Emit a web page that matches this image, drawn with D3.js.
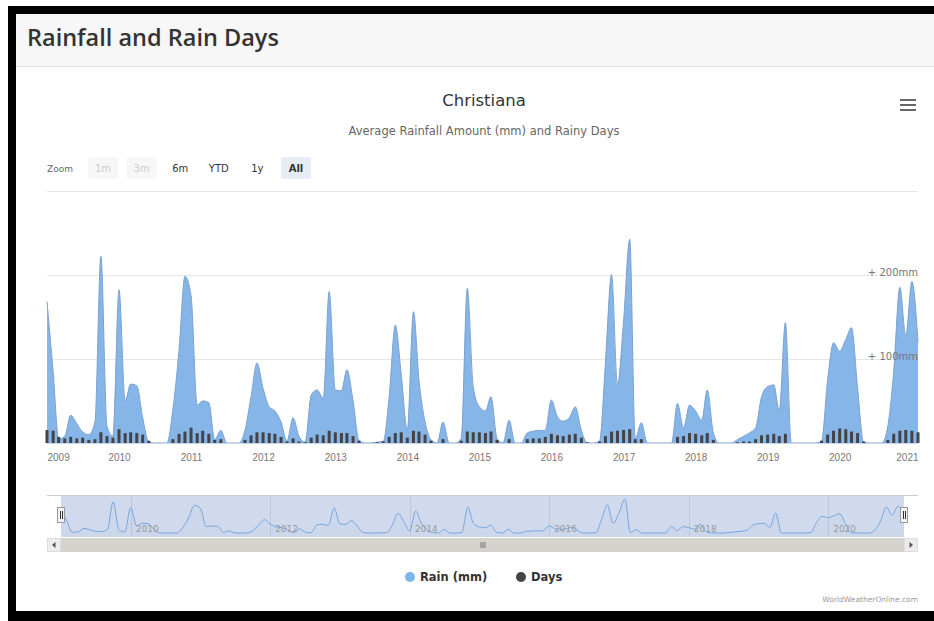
<!DOCTYPE html>
<html>
<head>
<meta charset="utf-8">
<script src="https://cdn.jsdelivr.net/npm/d3@7"></script>
<style>
  html, body { margin: 0; padding: 0; background: #ffffff; }
  svg { display: block; }
  .hc { font-family: "DejaVu Sans", "Liberation Sans", sans-serif; }
</style>
</head>
<body>
<svg id="chart" width="934" height="621"></svg>
<script>
// ---------------- DATA ----------------
const pageTitle = "Rainfall and Rain Days";
const chartTitle = "Christiana";
const chartSubtitle = "Average Rainfall Amount (mm) and Rainy Days";
const firstMonth = "2009-01";
const lastMonth = "2021-02";

// monthly rain (mm), Jan 2009 .. Feb 2021
const rainMm = [
  168, 85, 5, 8, 33, 23, 13, 10, 25, 222, 20, 8,        // 2009
  182, 50, 70, 68, 30, 1, 0, 0, 0, 40, 110, 198,        // 2010
  175, 45, 50, 48, 4, 15, 0, 0, 0, 15, 55, 95,          // 2011
  65, 43, 38, 25, 2, 30, 8, 1, 57, 63, 53, 180,         // 2012
  63, 62, 87, 50, 3, 0, 0, 1, 2, 55, 140, 82,           // 2013
  15, 156, 75, 25, 4, 0, 25, 0, 0, 5, 184, 67,          // 2014
  43, 38, 55, 5, 0, 27, 0, 0, 12, 14, 15, 15,           // 2015
  51, 31, 26, 30, 43, 15, 0, 0, 2, 95, 200, 69,         // 2016
  145, 242, 5, 24, 0, 0, 0, 0, 0, 47, 18, 45,           // 2017
  38, 27, 63, 12, 0, 0, 0, 4, 8, 12, 18, 55,            // 2018
  67, 69, 38, 143, 0, 0, 0, 0, 0, 2, 75, 119,           // 2019
  109, 123, 137, 65, 1, 0, 0, 0, 20, 85, 185, 127,      // 2020
  192, 120                                              // 2021
];

// monthly rainy days, Jan 2009 .. Feb 2021
const rainDays = [
  17, 16, 8, 6, 8, 6, 7, 4, 5, 14, 9, 7,
  18, 13, 14, 13, 11, 3, 0, 0, 0, 5, 12, 15,
  20, 13, 16, 12, 4, 5, 0, 0, 0, 4, 10, 14,
  14, 13, 12, 8, 2, 6, 2, 1, 7, 11, 10, 16,
  14, 13, 13, 9, 3, 0, 0, 1, 2, 8, 13, 14,
  7, 16, 15, 11, 3, 0, 5, 0, 0, 3, 15, 14,
  14, 13, 15, 4, 0, 5, 0, 0, 5, 6, 6, 8,
  12, 10, 9, 11, 12, 7, 1, 0, 2, 9, 15, 16,
  17, 18, 5, 5, 0, 0, 0, 0, 0, 8, 9, 13,
  12, 10, 13, 4, 0, 0, 0, 1, 2, 2, 5, 10,
  11, 12, 9, 12, 0, 0, 0, 0, 0, 3, 11, 16,
  19, 18, 15, 13, 2, 0, 0, 0, 4, 12, 16, 17,
  16, 14
];

const xTickYears = [2009, 2010, 2011, 2012, 2013, 2014, 2015, 2016, 2017, 2018, 2019, 2020, 2021];
const navTickYears = [2010, 2012, 2014, 2016, 2018, 2020];
const yTicks = [100, 200, 300];
const yTickLabels = ["+ 100mm", "+ 200mm", ""];
const rangeButtons = ["1m", "3m", "6m", "YTD", "1y", "All"];
const disabledButtons = ["1m", "3m"];
const selectedButton = "All";
const legendItems = ["Rain (mm)", "Days"];
const creditText = "WorldWeatherOnline.com";

// ---------------- BUILD ----------------
const parseM = d3.timeParse("%Y-%m");
const months = d3.timeMonth.range(parseM(firstMonth), d3.timeMonth.offset(parseM(lastMonth), 1));
const data = months.map((d, i) => ({ date: d, rain: rainMm[i], days: rainDays[i] }));

const svg = d3.select("#chart");
const W = 934, H = 621;

const rainColor = "#7cb5ec";
const daysColor = "#434348";

// page frame
svg.append("rect").attr("x", 0).attr("y", 0).attr("width", W).attr("height", H).attr("fill", "#fff");
// header
svg.append("rect").attr("x", 16).attr("y", 14).attr("width", W - 16).attr("height", 52).attr("fill", "#f7f7f7");
svg.append("line").attr("x1", 16).attr("x2", W).attr("y1", 66.5).attr("y2", 66.5).attr("stroke", "#e2e2e2");
svg.append("text").attr("x", 27).attr("y", 46)
  .attr("font-family", "'Open Sans', sans-serif").attr("font-weight", 600)
  .attr("font-size", 23.5).attr("fill", "#333").text(pageTitle);
// black frame
svg.append("rect").attr("x", 8).attr("y", 6).attr("width", W - 8).attr("height", 8).attr("fill", "#000");
svg.append("rect").attr("x", 8).attr("y", 6).attr("width", 8).attr("height", H - 6).attr("fill", "#000");
svg.append("rect").attr("x", 8).attr("y", 611).attr("width", W - 8).attr("height", 10).attr("fill", "#000");

const g = svg.append("g").attr("class", "hc");

// titles
g.append("text").attr("x", 484).attr("y", 106).attr("text-anchor", "middle")
  .attr("font-size", 16.5).attr("fill", "#333").text(chartTitle);
g.append("text").attr("x", 484).attr("y", 135).attr("text-anchor", "middle")
  .attr("font-size", 11.5).attr("fill", "#666").text(chartSubtitle);

// hamburger
[100, 105, 110].forEach(y => {
  g.append("line").attr("x1", 900).attr("x2", 916).attr("y1", y).attr("y2", y)
    .attr("stroke", "#666").attr("stroke-width", 2);
});

// range selector
g.append("text").attr("x", 47).attr("y", 172).attr("font-size", 9).attr("fill", "#666").text("Zoom");
const btnCenters = d3.scalePoint().domain(rangeButtons).range([103, 296]);
rangeButtons.forEach(b => {
  const cx = btnCenters(b);
  const sel = b === selectedButton;
  const dis = disabledButtons.includes(b);
  g.append("rect").attr("x", cx - 15).attr("y", 157).attr("width", 30).attr("height", 22)
    .attr("rx", 2).attr("fill", sel ? "#e6ebf5" : (dis ? "#f7f7f7" : "#ffffff"));
  g.append("text").attr("x", cx).attr("y", 172).attr("text-anchor", "middle")
    .attr("font-size", 10).attr("font-weight", sel ? "bold" : "normal")
    .attr("fill", dis ? "#cccccc" : "#333").text(b);
});

// main plot
const plotL = 47, plotR = 918, plotB = 443, plotT = 190.5;
const x = d3.scaleTime().domain([months[0], months[months.length - 1]]).range([plotL, plotR]);
const y = d3.scaleLinear().domain([0, 300]).range([plotB, plotT]);
const yDays = d3.scaleLinear().domain([0, 330]).range([plotB, plotT]);

// gridlines
g.append("g").selectAll("line").data(yTicks).join("line")
  .attr("x1", plotL).attr("x2", plotR)
  .attr("y1", d => Math.round(y(d)) + 0.5).attr("y2", d => Math.round(y(d)) + 0.5)
  .attr("stroke", "#e6e6e6");

// area (spline)
const area = d3.area().curve(d3.curveMonotoneX).x(d => x(d.date)).y0(plotB).y1(d => y(d.rain));
const line = d3.line().curve(d3.curveMonotoneX).x(d => x(d.date)).y(d => y(d.rain));
g.append("path").datum(data).attr("d", area).attr("fill", "#86b5e8");
g.append("path").datum(data).attr("d", line).attr("fill", "none")
  .attr("stroke", "#7aa2d2").attr("stroke-width", 1);

// days columns
g.append("g").selectAll("rect").data(data.filter(d => d.days > 0)).join("rect")
  .attr("x", d => x(d.date) - 1.5).attr("width", 3)
  .attr("y", d => yDays(d.days)).attr("height", d => plotB - yDays(d.days))
  .attr("fill", daysColor);

// x axis line
g.append("line").attr("x1", plotL).attr("x2", plotR).attr("y1", plotB + 0.5).attr("y2", plotB + 0.5)
  .attr("stroke", "#ccd6eb");

// x axis labels
const xAxis = d3.axisBottom(x)
  .tickValues(xTickYears.map(yr => new Date(yr, 0, 1)))
  .tickFormat(d3.timeFormat("%Y")).tickSize(0).tickPadding(0);
const xg = g.append("g").attr("transform", `translate(0,${plotB + 11})`).call(xAxis);
xg.select(".domain").remove();
xg.selectAll("text").attr("font-size", 10).attr("fill", "#777").attr("font-family", null)
  .attr("dy", "0.71em");
xg.selectAll(".tick").each(function(d) {
  const t = d3.select(this).select("text");
  const w = t.node().getComputedTextLength();
  const px = x(d);
  if (px - w / 2 < plotL) t.attr("x", plotL - px + w / 2);
  if (px + w / 2 > plotR) t.attr("x", plotR - px - w / 2);
});

// y labels
yTicks.forEach((v, i) => {
  if (!yTickLabels[i]) return;
  g.append("text").attr("x", plotR).attr("y", y(v) + 1).attr("text-anchor", "end")
    .attr("font-size", 10).attr("fill", "#777").text(yTickLabels[i]);
});

// navigator
const navT = 495, navB = 537, navL = 61, navR = 904;
const nx = d3.scaleTime().domain(x.domain()).range([navL, navR]);
const ny = d3.scaleLinear().domain([0, 242]).range([navB - 4, navT + 4]);
g.append("g").selectAll("line").data(navTickYears).join("line")
  .attr("x1", d => Math.round(nx(new Date(d, 0, 1))) + 0.5)
  .attr("x2", d => Math.round(nx(new Date(d, 0, 1))) + 0.5)
  .attr("y1", navT).attr("y2", navB).attr("stroke", "#e6e6e6");
const narea = d3.area().curve(d3.curveMonotoneX).x(d => nx(d.date)).y0(navB).y1(d => ny(d.rain));
const nline = d3.line().curve(d3.curveMonotoneX).x(d => nx(d.date)).y(d => ny(d.rain));
g.append("path").datum(data).attr("d", narea).attr("fill", rainColor).attr("fill-opacity", 0.05);
g.append("path").datum(data).attr("d", nline).attr("fill", "none").attr("stroke", rainColor).attr("stroke-width", 1);
g.append("rect").attr("x", navL).attr("y", navT).attr("width", navR - navL).attr("height", navB - navT)
  .attr("fill", "rgba(102,133,194,0.3)");
g.append("line").attr("x1", plotL).attr("x2", plotR).attr("y1", navT + 0.5).attr("y2", navT + 0.5)
  .attr("stroke", "#cccccc");
g.append("g").selectAll("text").data(navTickYears).join("text")
  .attr("x", d => nx(new Date(d, 0, 1)) + 5).attr("y", navB - 5)
  .attr("font-size", 9).attr("fill", "#999").text(d => d);
// handles
[navL, navR].forEach(hx => {
  g.append("rect").attr("x", hx - 3.5).attr("y", 507.5).attr("width", 7).attr("height", 15)
    .attr("fill", "#f2f2f2").attr("stroke", "#999");
  [hx - 1, hx + 1].forEach(lx => g.append("line").attr("x1", lx + 0.5).attr("x2", lx + 0.5)
    .attr("y1", 511).attr("y2", 519).attr("stroke", "#333"));
});

// scrollbar
const sbT = 538, sbH = 14;
g.append("rect").attr("x", plotL).attr("y", sbT).attr("width", plotR - plotL).attr("height", sbH).attr("fill", "#f2f2f2");
g.append("rect").attr("x", navL).attr("y", sbT).attr("width", navR - navL).attr("height", sbH)
  .attr("fill", "#d6d3cf");
[plotL, plotR - sbH].forEach((bx, i) => {
  g.append("rect").attr("x", bx + 0.5).attr("y", sbT + 0.5).attr("width", sbH - 1).attr("height", sbH - 1)
    .attr("fill", "#ececec").attr("stroke", "#ddd");
  const cx = bx + sbH / 2, cy = sbT + sbH / 2;
  const p = i === 0 ? `M${cx + 1.5},${cy - 3}L${cx - 2},${cy}L${cx + 1.5},${cy + 3}Z`
                    : `M${cx - 1.5},${cy - 3}L${cx + 2},${cy}L${cx - 1.5},${cy + 3}Z`;
  g.append("path").attr("d", p).attr("fill", "#555");
});
const gripX = (navL + navR) / 2;
[-2, 0, 2].forEach(o => g.append("line").attr("x1", gripX + o + 0.5).attr("x2", gripX + o + 0.5)
  .attr("y1", sbT + 4).attr("y2", sbT + 10).attr("stroke", "#777"));

// legend
const legendColors = [rainColor, daysColor];
const legendX = [410, 521];
legendItems.forEach((name, i) => {
  g.append("circle").attr("cx", legendX[i]).attr("cy", 577).attr("r", 5).attr("fill", legendColors[i]);
  g.append("text").attr("x", legendX[i] + 10).attr("y", 581).attr("font-size", 11.5)
    .attr("font-weight", "bold").attr("fill", "#333").text(name);
});

// credits
g.append("text").attr("x", plotR).attr("y", 602).attr("text-anchor", "end")
  .attr("font-size", 7.5).attr("fill", "#999").text(creditText);
</script>
</body>
</html>
